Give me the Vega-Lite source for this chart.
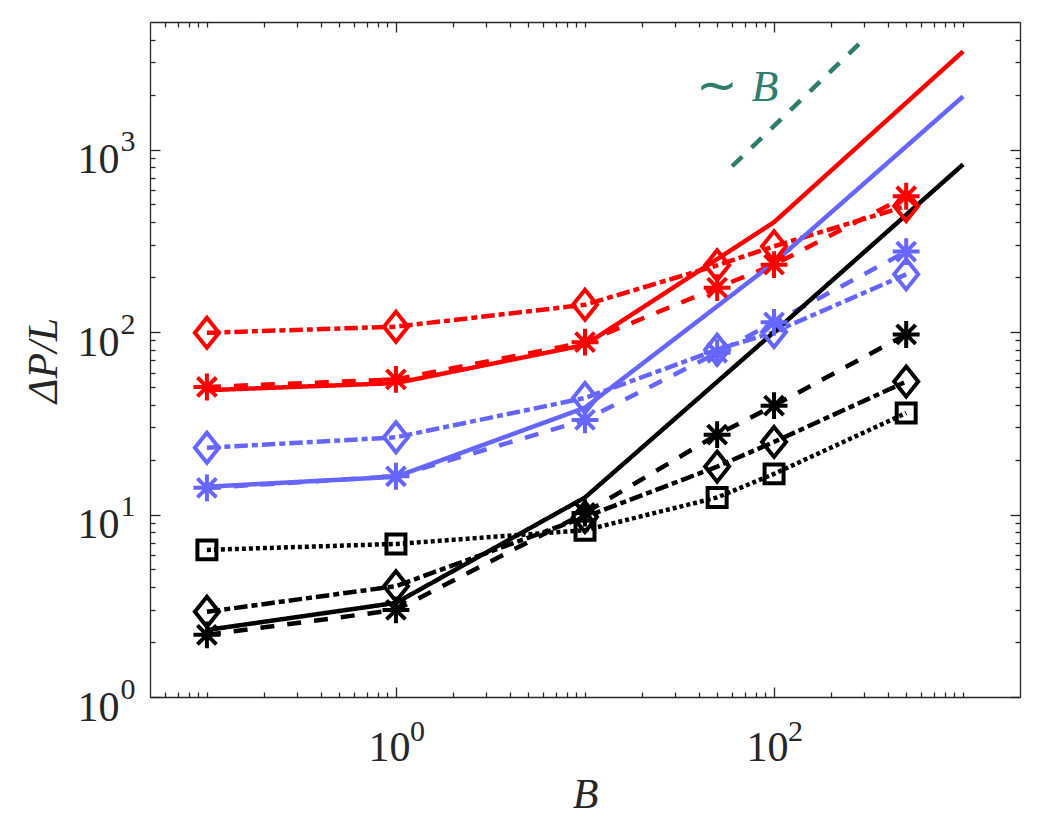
{
  "$schema": "https://vega.github.io/schema/vega-lite/v6.json",
  "width": 870,
  "height": 675,
  "autosize": "none",
  "padding": {"left": 150, "top": 22, "right": 26, "bottom": 128},
  "datasets": {
    "curves": [
      {"series": "red_solid", "grp": "red", "style": "solid", "marker": "none", "B": 0.1, "P": 48},
      {"series": "red_solid", "grp": "red", "style": "solid", "marker": "none", "B": 1, "P": 52.5},
      {"series": "red_solid", "grp": "red", "style": "solid", "marker": "none", "B": 10, "P": 85},
      {"series": "red_solid", "grp": "red", "style": "solid", "marker": "none", "B": 100, "P": 400},
      {"series": "red_solid", "grp": "red", "style": "solid", "marker": "none", "B": 1000, "P": 3450},
      {"series": "red_dash", "grp": "red", "style": "dashed", "marker": "asterisk", "B": 0.1, "P": 50},
      {"series": "red_dash", "grp": "red", "style": "dashed", "marker": "asterisk", "B": 1, "P": 55},
      {"series": "red_dash", "grp": "red", "style": "dashed", "marker": "asterisk", "B": 10, "P": 88},
      {"series": "red_dash", "grp": "red", "style": "dashed", "marker": "asterisk", "B": 50, "P": 175},
      {"series": "red_dash", "grp": "red", "style": "dashed", "marker": "asterisk", "B": 100, "P": 234},
      {"series": "red_dash", "grp": "red", "style": "dashed", "marker": "asterisk", "B": 500, "P": 555},
      {"series": "red_dd", "grp": "red", "style": "dashdot", "marker": "diamond", "B": 0.1, "P": 99},
      {"series": "red_dd", "grp": "red", "style": "dashdot", "marker": "diamond", "B": 1, "P": 107},
      {"series": "red_dd", "grp": "red", "style": "dashdot", "marker": "diamond", "B": 10, "P": 141},
      {"series": "red_dd", "grp": "red", "style": "dashdot", "marker": "diamond", "B": 50, "P": 232},
      {"series": "red_dd", "grp": "red", "style": "dashdot", "marker": "diamond", "B": 100, "P": 295},
      {"series": "red_dd", "grp": "red", "style": "dashdot", "marker": "diamond", "B": 500, "P": 490},
      {"series": "blue_solid", "grp": "blue", "style": "solid", "marker": "none", "B": 0.1, "P": 14.2},
      {"series": "blue_solid", "grp": "blue", "style": "solid", "marker": "none", "B": 1, "P": 16.1},
      {"series": "blue_solid", "grp": "blue", "style": "solid", "marker": "none", "B": 10, "P": 38.5},
      {"series": "blue_solid", "grp": "blue", "style": "solid", "marker": "none", "B": 100, "P": 240},
      {"series": "blue_solid", "grp": "blue", "style": "solid", "marker": "none", "B": 1000, "P": 1955},
      {"series": "blue_dash", "grp": "blue", "style": "dashed", "marker": "asterisk", "B": 0.1, "P": 14},
      {"series": "blue_dash", "grp": "blue", "style": "dashed", "marker": "asterisk", "B": 1, "P": 16.2},
      {"series": "blue_dash", "grp": "blue", "style": "dashed", "marker": "asterisk", "B": 10, "P": 33},
      {"series": "blue_dash", "grp": "blue", "style": "dashed", "marker": "asterisk", "B": 50, "P": 77},
      {"series": "blue_dash", "grp": "blue", "style": "dashed", "marker": "asterisk", "B": 100, "P": 113},
      {"series": "blue_dash", "grp": "blue", "style": "dashed", "marker": "asterisk", "B": 500, "P": 276},
      {"series": "blue_dd", "grp": "blue", "style": "dashdot", "marker": "diamond", "B": 0.1, "P": 23.2},
      {"series": "blue_dd", "grp": "blue", "style": "dashdot", "marker": "diamond", "B": 1, "P": 26.5},
      {"series": "blue_dd", "grp": "blue", "style": "dashdot", "marker": "diamond", "B": 10, "P": 43.5},
      {"series": "blue_dd", "grp": "blue", "style": "dashdot", "marker": "diamond", "B": 50, "P": 80},
      {"series": "blue_dd", "grp": "blue", "style": "dashdot", "marker": "diamond", "B": 100, "P": 100},
      {"series": "blue_dd", "grp": "blue", "style": "dashdot", "marker": "diamond", "B": 500, "P": 207},
      {"series": "black_solid", "grp": "black", "style": "solid", "marker": "none", "B": 0.1, "P": 2.33},
      {"series": "black_solid", "grp": "black", "style": "solid", "marker": "none", "B": 1, "P": 3.28},
      {"series": "black_solid", "grp": "black", "style": "solid", "marker": "none", "B": 10, "P": 12.4},
      {"series": "black_solid", "grp": "black", "style": "solid", "marker": "none", "B": 100, "P": 100},
      {"series": "black_solid", "grp": "black", "style": "solid", "marker": "none", "B": 1000, "P": 829},
      {"series": "black_dash", "grp": "black", "style": "dashed", "marker": "asterisk", "B": 0.1, "P": 2.19},
      {"series": "black_dash", "grp": "black", "style": "dashed", "marker": "asterisk", "B": 1, "P": 3.0},
      {"series": "black_dash", "grp": "black", "style": "dashed", "marker": "asterisk", "B": 10, "P": 10.2},
      {"series": "black_dash", "grp": "black", "style": "dashed", "marker": "asterisk", "B": 50, "P": 27.4},
      {"series": "black_dash", "grp": "black", "style": "dashed", "marker": "asterisk", "B": 100, "P": 39.5},
      {"series": "black_dash", "grp": "black", "style": "dashed", "marker": "asterisk", "B": 500, "P": 97},
      {"series": "black_dd", "grp": "black", "style": "dashdot", "marker": "diamond", "B": 0.1, "P": 2.93},
      {"series": "black_dd", "grp": "black", "style": "dashdot", "marker": "diamond", "B": 1, "P": 4.05},
      {"series": "black_dd", "grp": "black", "style": "dashdot", "marker": "diamond", "B": 10, "P": 9.7},
      {"series": "black_dd", "grp": "black", "style": "dashdot", "marker": "diamond", "B": 50, "P": 18.3},
      {"series": "black_dd", "grp": "black", "style": "dashdot", "marker": "diamond", "B": 100, "P": 25},
      {"series": "black_dd", "grp": "black", "style": "dashdot", "marker": "diamond", "B": 500, "P": 53.5},
      {"series": "black_dot", "grp": "black", "style": "dotted", "marker": "square", "B": 0.1, "P": 6.4},
      {"series": "black_dot", "grp": "black", "style": "dotted", "marker": "square", "B": 1, "P": 6.9},
      {"series": "black_dot", "grp": "black", "style": "dotted", "marker": "square", "B": 10, "P": 8.2},
      {"series": "black_dot", "grp": "black", "style": "dotted", "marker": "square", "B": 50, "P": 12.4},
      {"series": "black_dot", "grp": "black", "style": "dotted", "marker": "square", "B": 100, "P": 16.7},
      {"series": "black_dot", "grp": "black", "style": "dotted", "marker": "square", "B": 500, "P": 36}
    ],
    "slope": [
      {"B": 60, "P": 810},
      {"B": 290, "P": 3900}
    ],
    "tilde": [{"B": 50, "P": 2191, "label": "∼"}],
    "letter": [{"B": 89.6, "P": 1836, "label": "B"}]
  },
  "layer": [
    {
      "data": {"name": "curves"},
      "mark": {"type": "line", "strokeWidth": 4.5},
      "encoding": {
        "x": {
          "field": "B", "type": "quantitative",
          "scale": {"type": "log", "domain": [0.05, 2000], "nice": false},
          "axis": {"orient": "bottom", "values": [1, 100], "labels": false, "tickSize": -10, "domain": true,
            "title": "B", "titleFontStyle": "italic", "titleY": 110, "titleBaseline": "alphabetic"}
        },
        "y": {
          "field": "P", "type": "quantitative",
          "scale": {"type": "log", "domain": [1, 5000], "nice": false},
          "axis": {"orient": "left", "values": [1, 10, 100, 1000], "labels": false, "tickSize": -10, "domain": true,
            "title": "ΔP/L", "titleFontStyle": "italic", "titleX": -94, "titleY": 338, "titleAngle": -90,
            "titleBaseline": "alphabetic", "titleAlign": "center"}
        },
        "color": {
          "field": "grp", "type": "nominal",
          "scale": {"domain": ["red", "blue", "black"], "range": ["#ff0000", "#6666ff", "#000000"]},
          "legend": null
        },
        "strokeDash": {
          "field": "style", "type": "nominal",
          "scale": {"domain": ["solid", "dashed", "dashdot", "dotted"], "range": [[1, 0], [14, 13], [13.5, 4, 6, 4], [4, 3]]},
          "legend": null
        },
        "detail": {"field": "series"}
      }
    },
    {
      "data": {"name": "curves"},
      "transform": [{"filter": "datum.marker == 'asterisk'"}],
      "mark": {"type": "point", "filled": false, "strokeWidth": 4, "size": 1000, "opacity": 1},
      "encoding": {
        "x": {
          "field": "B", "type": "quantitative",
          "scale": {"type": "log", "domain": [0.05, 2000], "nice": false},
          "axis": {"orient": "bottom", "labels": false, "tickSize": -5, "domain": false, "title": null,
            "values": [0.06, 0.07, 0.08, 0.09, 0.1, 0.2, 0.3, 0.4, 0.5, 0.6, 0.7, 0.8, 0.9, 2, 3, 4, 5, 6, 7, 8, 9, 10, 20, 30, 40, 50, 60, 70, 80, 90, 200, 300, 400, 500, 600, 700, 800, 900, 1000]}
        },
        "y": {
          "field": "P", "type": "quantitative",
          "scale": {"type": "log", "domain": [1, 5000], "nice": false},
          "axis": {"orient": "left", "labels": false, "tickSize": -5, "domain": false, "title": null,
            "values": [2, 3, 4, 5, 6, 7, 8, 9, 20, 30, 40, 50, 60, 70, 80, 90, 200, 300, 400, 500, 600, 700, 800, 900, 2000, 3000, 4000]}
        },
        "color": {"field": "grp", "type": "nominal", "legend": null},
        "shape": {
          "field": "marker", "type": "nominal",
          "scale": {"domain": ["asterisk", "diamond", "square"],
            "range": ["M-0.85,0H0.85M0,-0.85V0.85M-0.6,-0.6L0.6,0.6M-0.6,0.6L0.6,-0.6", "M0,-0.95L0.76,0L0,0.95L-0.76,0Z", "M-0.6,-0.6H0.6V0.6H-0.6Z"]},
          "legend": null
        }
      }
    },
    {
      "data": {"name": "slope"},
      "mark": {"type": "line", "strokeWidth": 4.5, "color": "#2e7d6e", "strokeDash": [14, 13]},
      "encoding": {
        "x": {
          "field": "B", "type": "quantitative",
          "scale": {"type": "log", "domain": [0.05, 2000], "nice": false},
          "axis": {"orient": "bottom", "values": [1, 100], "ticks": false, "domain": false, "title": null,
            "labelExpr": "'10'", "labelPadding": 63, "labelBaseline": "alphabetic", "labelOffset": -7}
        },
        "y": {
          "field": "P", "type": "quantitative",
          "scale": {"type": "log", "domain": [1, 5000], "nice": false},
          "axis": {"orient": "left", "values": [1, 10, 100, 1000], "ticks": false, "domain": false, "title": null,
            "labelExpr": "'10'", "labelPadding": 31, "labelAlign": "right", "labelBaseline": "alphabetic", "labelOffset": 23}
        }
      }
    },
    {
      "data": {"name": "tilde"},
      "mark": {"type": "text", "font": "Liberation Serif", "fontSize": 50, "color": "#2e7d6e", "align": "center", "baseline": "middle"},
      "encoding": {
        "x": {
          "field": "B", "type": "quantitative",
          "scale": {"type": "log", "domain": [0.05, 2000], "nice": false},
          "axis": {"orient": "bottom", "values": [1, 100], "ticks": false, "domain": false, "title": null,
            "labelExpr": "format(round(log(datum.value) / LN10), 'd')", "labelPadding": 43, "labelBaseline": "alphabetic",
            "labelOffset": 21, "labelFontSize": 30}
        },
        "y": {
          "field": "P", "type": "quantitative",
          "scale": {"type": "log", "domain": [1, 5000], "nice": false},
          "axis": {"orient": "left", "values": [1, 10, 100, 1000], "ticks": false, "domain": false, "title": null,
            "labelExpr": "format(round(log(datum.value) / LN10), 'd')", "labelPadding": 30, "labelAlign": "left",
            "labelBaseline": "alphabetic", "labelOffset": 1, "labelFontSize": 30}
        },
        "text": {"field": "label"}
      }
    },
    {
      "data": {"name": "letter"},
      "mark": {"type": "text", "font": "Liberation Serif", "fontSize": 44, "fontStyle": "italic", "color": "#2e7d6e", "align": "center", "baseline": "alphabetic"},
      "encoding": {
        "x": {
          "field": "B", "type": "quantitative",
          "scale": {"type": "log", "domain": [0.05, 2000], "nice": false},
          "axis": {"orient": "top", "values": [1, 100], "labels": false, "tickSize": -10, "domain": true, "title": null}
        },
        "y": {
          "field": "P", "type": "quantitative",
          "scale": {"type": "log", "domain": [1, 5000], "nice": false},
          "axis": {"orient": "right", "values": [1, 10, 100, 1000], "labels": false, "tickSize": -10, "domain": true, "title": null}
        },
        "text": {"field": "label"}
      }
    },
    {
      "data": {"name": "curves"},
      "transform": [{"filter": "datum.marker == 'diamond' || datum.marker == 'square'"}],
      "mark": {"type": "point", "filled": false, "strokeWidth": 4, "size": 1000, "opacity": 1},
      "encoding": {
        "x": {
          "field": "B", "type": "quantitative",
          "scale": {"type": "log", "domain": [0.05, 2000], "nice": false},
          "axis": {"orient": "top", "labels": false, "tickSize": -5, "domain": false, "title": null,
            "values": [0.06, 0.07, 0.08, 0.09, 0.1, 0.2, 0.3, 0.4, 0.5, 0.6, 0.7, 0.8, 0.9, 2, 3, 4, 5, 6, 7, 8, 9, 10, 20, 30, 40, 50, 60, 70, 80, 90, 200, 300, 400, 500, 600, 700, 800, 900, 1000]}
        },
        "y": {
          "field": "P", "type": "quantitative",
          "scale": {"type": "log", "domain": [1, 5000], "nice": false},
          "axis": {"orient": "right", "labels": false, "tickSize": -5, "domain": false, "title": null,
            "values": [2, 3, 4, 5, 6, 7, 8, 9, 20, 30, 40, 50, 60, 70, 80, 90, 200, 300, 400, 500, 600, 700, 800, 900, 2000, 3000, 4000]}
        },
        "color": {"field": "grp", "type": "nominal", "legend": null},
        "shape": {"field": "marker", "type": "nominal", "legend": null}
      }
    }
  ],
  "resolve": {"axis": {"x": "independent", "y": "independent"}},
  "config": {
    "view": {"stroke": null},
    "axis": {
      "grid": false,
      "labelFont": "Liberation Serif",
      "labelFontSize": 42,
      "labelColor": "#262626",
      "labelFlush": false,
      "labelOverlap": false,
      "tickColor": "#262626",
      "tickWidth": 1.3,
      "domainColor": "#262626",
      "domainWidth": 1.3,
      "titleFont": "Liberation Serif",
      "titleFontSize": 42,
      "titleFontWeight": "normal",
      "titleColor": "#262626"
    }
  }
}
